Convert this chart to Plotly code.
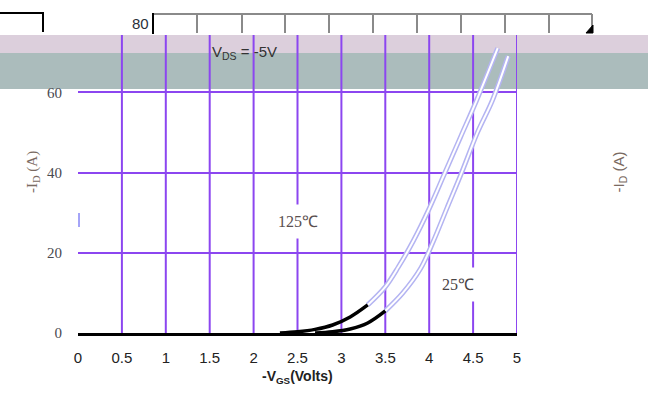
import plotly.graph_objects as go

# ---- data ----
x_ticks = [0, 0.5, 1, 1.5, 2, 2.5, 3, 3.5, 4, 4.5, 5]
x_tick_text = ["0", "0.5", "1", "1.5", "2", "2.5", "3", "3.5", "4", "4.5", "5"]
y_ticks = [0, 20, 40, 60]
y_tick_text = ["0", "20", "40", "60"]

v_125 = [2.3, 2.5, 2.7, 2.9, 3.1, 3.3, 3.5, 3.65, 3.82, 4.0, 4.18, 4.36, 4.54, 4.78]
i_125 = [0, 0.3, 0.9, 2.0, 4.0, 7.0, 11.5, 16.5, 23, 31, 40, 49, 58, 71]
v_25 = [2.7, 2.9, 3.1, 3.3, 3.5, 3.7, 3.9, 4.05, 4.2, 4.37, 4.55, 4.72, 4.9]
i_25 = [0, 0.3, 1.0, 2.5, 5.5, 10, 16, 23, 31, 40, 50, 58, 69]
black_limit = 7.0  # lower part of each curve drawn solid black

W, H = 648, 410
L, R, T, B = 78, 131, 12, 77
PW, PH = W - L - R, H - T - B


def px(xp):
    return (xp - L) / PW


def py(yp):
    return (H - B - yp) / PH


GRID = "#8c46f0"
fig = go.Figure()

for v, i in [(v_125, i_125), (v_25, i_25)]:
    k = max(n for n, val in enumerate(i) if val <= black_limit)
    fig.add_trace(go.Scatter(x=v[k:], y=i[k:], mode="lines",
                             line=dict(color="#b4b4f2", width=5, shape="spline"),
                             hoverinfo="skip", showlegend=False))
    fig.add_trace(go.Scatter(x=v[k:], y=i[k:], mode="lines",
                             line=dict(color="white", width=2, shape="spline"),
                             hoverinfo="skip", showlegend=False))
    fig.add_trace(go.Scatter(x=v[:k + 1], y=i[:k + 1], mode="lines",
                             line=dict(color="black", width=3.5, shape="spline"),
                             hoverinfo="skip", showlegend=False))

shapes = []
# noisy band at the top
shapes.append(dict(type="rect", xref="paper", yref="paper", x0=-0.3, x1=1.4,
                   y0=py(53), y1=py(35), fillcolor="#dccfdc", line_width=0, layer="below"))
shapes.append(dict(type="rect", xref="paper", yref="paper", x0=-0.3, x1=1.4,
                   y0=py(89), y1=py(53), fillcolor="#abbcbc", line_width=0, layer="below"))
# vertical gridlines
for xv in x_ticks[1:]:
    shapes.append(dict(type="line", xref="x", yref="paper", x0=xv, x1=xv,
                       y0=0, y1=py(35), line=dict(color=GRID, width=2), layer="below"))
# top-left black bracket
shapes.append(dict(type="path", xref="paper", yref="paper",
                   path=f"M {px(0)},{py(13)} L {px(43)},{py(13)} L {px(43)},{py(32)}",
                   line=dict(color="black", width=2)))
# gray top bracket with ticks
shapes.append(dict(type="line", xref="paper", yref="paper", x0=px(153), x1=px(592),
                   y0=py(14), y1=py(14), line=dict(color="#8a8a8a", width=2)))
shapes.append(dict(type="line", xref="paper", yref="paper", x0=px(153), x1=px(153),
                   y0=py(13), y1=py(34), line=dict(color="black", width=2)))
for tx in [197, 242, 285, 329, 373, 417, 461, 505, 549]:
    shapes.append(dict(type="line", xref="paper", yref="paper", x0=px(tx), x1=px(tx),
                       y0=py(14), y1=py(33), line=dict(color="#8a8a8a", width=2)))
shapes.append(dict(type="line", xref="paper", yref="paper", x0=px(592), x1=px(592),
                   y0=py(14), y1=py(33), line=dict(color="#8a8a8a", width=2)))
shapes.append(dict(type="path", xref="paper", yref="paper",
                   path=f"M {px(586)},{py(33)} L {px(593)},{py(33)} L {px(593)},{py(25)} Z",
                   fillcolor="black", line=dict(color="black", width=1)))
# small blue mark
shapes.append(dict(type="line", xref="paper", yref="paper", x0=px(79), x1=px(79),
                   y0=py(213), y1=py(227), line=dict(color="#4a4af0", width=1)))

annotations = [
    dict(text="125℃", x=2.5, y=27.9, xref="x", yref="y", showarrow=False,
         font=dict(family="Liberation Serif", size=16, color="#5a5050"),
         bgcolor="white", borderpad=8),
    dict(text="25℃", x=4.33, y=12, xref="x", yref="y", showarrow=False,
         font=dict(family="Liberation Serif", size=16, color="#4a4545"),
         bgcolor="white", borderpad=8),
    dict(text="80", x=px(130), y=py(13), xref="paper", yref="paper", showarrow=False,
         font=dict(family="Liberation Sans", size=15, color="#2a303a")),
    dict(text="V<sub>DS</sub> = -5V", x=px(210), y=py(41), xref="paper", yref="paper",
         showarrow=False, font=dict(family="Liberation Sans", size=15, color="#333")),
    dict(text="-V<sub>GS</sub>(Volts)", x=0.5, y=py(388), xref="paper", yref="paper",
         showarrow=False, font=dict(family="Liberation Sans", size=14, color="#222", weight="bold")),
    dict(text="-I<sub>D</sub> (A)", x=px(22), y=py(172), xref="paper", yref="paper",
         showarrow=False, textangle=-90,
         font=dict(family="Liberation Serif", size=15, color="#7a6a62")),
    dict(text="-I<sub>D</sub> (A)", x=px(630), y=py(172), xref="paper", yref="paper",
         showarrow=False, textangle=-90,
         font=dict(family="Liberation Sans", size=15, color="#7a6a62")),
]

fig.update_layout(
    width=W, height=H,
    margin=dict(l=L, r=R, t=T, b=B),
    paper_bgcolor="white",
    plot_bgcolor="rgba(0,0,0,0)",
    shapes=shapes,
    annotations=annotations,
    showlegend=False,
    xaxis=dict(range=[0, 5], tickvals=x_ticks, ticktext=x_tick_text, showgrid=False,
               zeroline=False, showline=True, linecolor="black", linewidth=3,
               ticks="outside", ticklen=9, tickcolor="rgba(0,0,0,0)",
               tickfont=dict(family="Liberation Sans", size=15, color="#222")),
    yaxis=dict(range=[0, 80], tickvals=y_ticks, ticktext=y_tick_text, showgrid=True,
               gridcolor=GRID, gridwidth=2, zeroline=False, showline=False,
               ticks="outside", ticklen=12, tickcolor="rgba(0,0,0,0)",
               tickfont=dict(family="Liberation Serif", size=15, color="#4a4a50")),
)

fig.write_html("out.html")
